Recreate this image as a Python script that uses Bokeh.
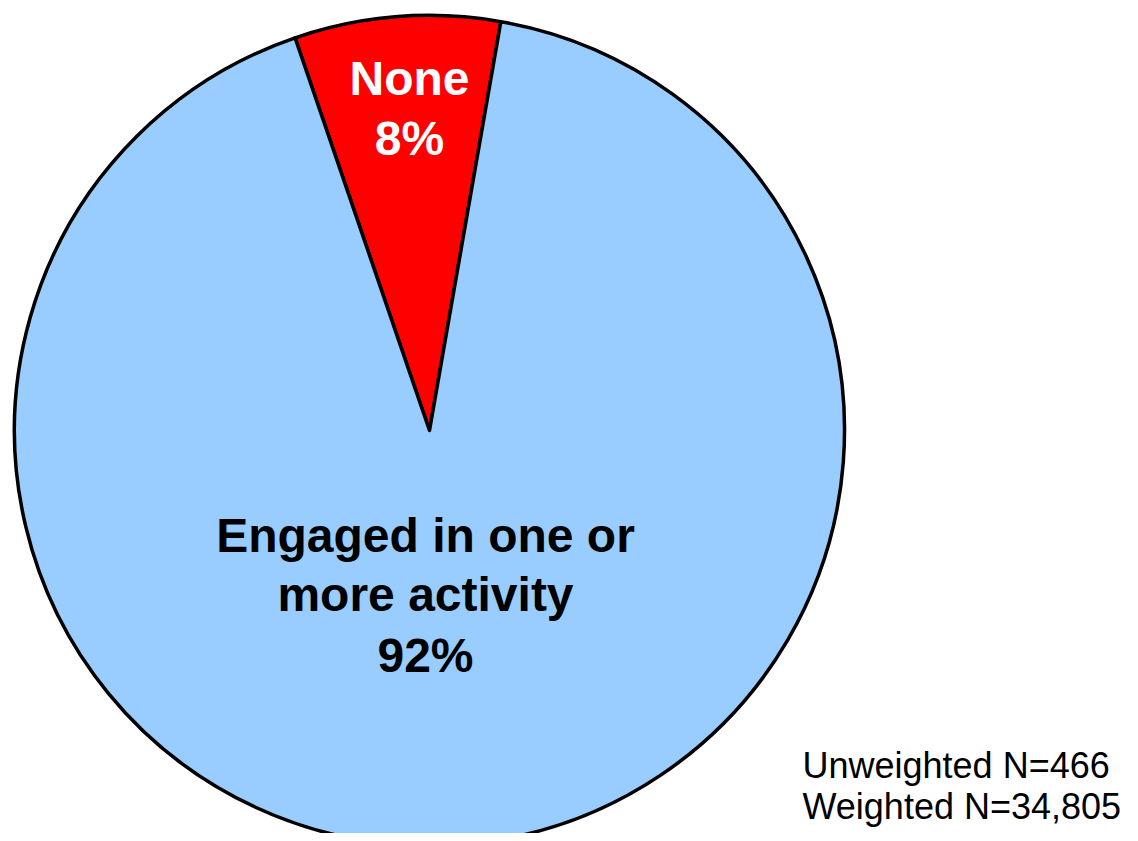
import math
from bokeh.plotting import figure
from bokeh.models import Range1d, ColumnDataSource
from bokeh.core.properties import value
from bokeh.embed import file_html
from bokeh.resources import INLINE

# ---- data ----
categories = ["None", "Engaged in one or more activity"]
percentages = [8, 92]
label_lines = [["None", "8%"], ["Engaged in one or", "more activity", "92%"]]
colors = ["#FF0000", "#99CCFF"]
label_colors = ["white", "black"]
notes = ["Unweighted N=466", "Weighted N=34,805"]

# ---- layout (data y = 841 - image_y) ----
W, H = 1130, 833
PAGE_H = 841
cx, cy_page, r = 429, 430, 415
start_deg = 80.1

p = figure(width=W, height=H, output_backend="svg", toolbar_location=None,
           x_range=Range1d(0, W), y_range=Range1d(PAGE_H - H, PAGE_H),
           min_border=0)
p.axis.visible = False
p.grid.visible = False
p.outline_line_color = None
p.background_fill_color = "white"
p.border_fill_color = "white"

total = sum(percentages)
starts, ends = [], []
a = start_deg
for v in percentages:
    starts.append(math.radians(a))
    a += v / total * 360.0
    ends.append(math.radians(a))

src = ColumnDataSource(dict(x=[cx] * len(categories), y=[PAGE_H - cy_page] * len(categories),
                            start=starts, end=ends, color=colors, cat=categories))
p.wedge(x="x", y="y", radius=r, start_angle="start", end_angle="end",
        fill_color="color", line_color="black",
        line_width=3.5, line_join="round", source=src)

# slice labels
label_pos = [(409, [78, 138]), (425, [535, 594, 655])]
for (lx, ys), lines, col in zip(label_pos, label_lines, label_colors):
    p.text(x=[lx] * len(lines), y=[PAGE_H - yy for yy in ys], text=lines,
           text_font=value("Liberation Sans"), text_font_style="bold",
           text_font_size="48px", text_color=col,
           text_align="center", text_baseline="middle")

# notes
p.text(x=[802, 802], y=[PAGE_H - 765, PAGE_H - 806], text=notes,
       text_font=value("Liberation Sans"), text_font_size="36px",
       text_color="black", text_align="left", text_baseline="middle")

open("out.html", "w").write(file_html(p, INLINE))
